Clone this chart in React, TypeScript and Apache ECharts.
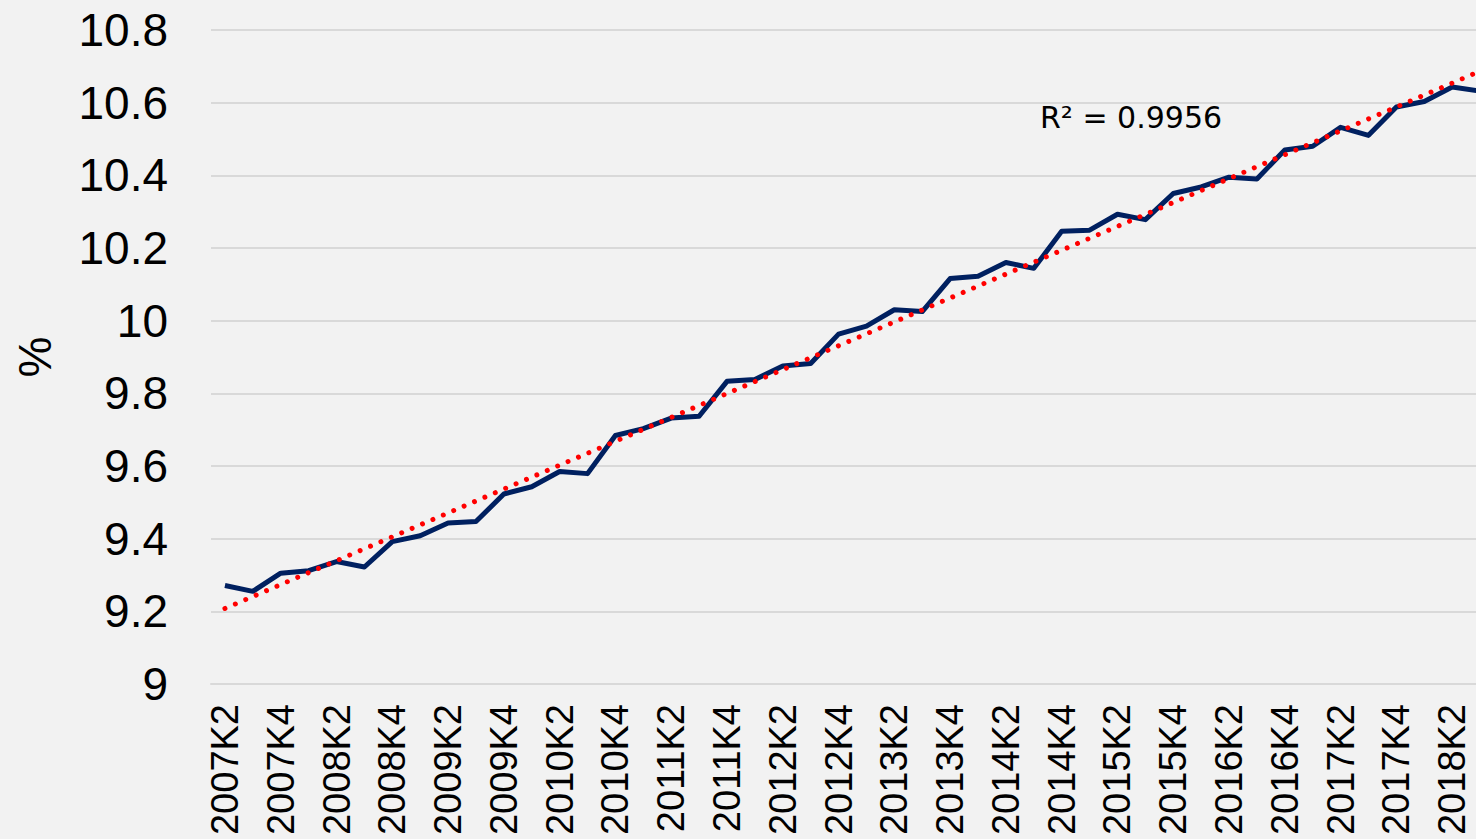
import React, { useEffect, useRef } from "react";
import * as echarts from "echarts";

const categories: string[] = [
  "2007K2", "2007K3", "2007K4", "2008K1", "2008K2", "2008K3", "2008K4",
  "2009K1", "2009K2", "2009K3", "2009K4", "2010K1", "2010K2", "2010K3", "2010K4",
  "2011K1", "2011K2", "2011K3", "2011K4", "2012K1", "2012K2", "2012K3", "2012K4",
  "2013K1", "2013K2", "2013K3", "2013K4", "2014K1", "2014K2", "2014K3", "2014K4",
  "2015K1", "2015K2", "2015K3", "2015K4", "2016K1", "2016K2", "2016K3", "2016K4",
  "2017K1", "2017K2", "2017K3", "2017K4", "2018K1", "2018K2", "2018K3",
];

const shareValues: number[] = [
  9.271, 9.255, 9.305, 9.312, 9.337, 9.322, 9.392, 9.408, 9.443, 9.447,
  9.523, 9.543, 9.585, 9.579, 9.684, 9.703, 9.732, 9.737, 9.833, 9.838,
  9.875, 9.882, 9.963, 9.985, 10.03, 10.025, 10.116, 10.122, 10.16, 10.144,
  10.246, 10.249, 10.293, 10.278, 10.35, 10.368, 10.395, 10.39, 10.47, 10.48,
  10.532, 10.51, 10.588, 10.603, 10.643, 10.632,
];

const yTicks = { min: 9, max: 10.8, step: 0.2 };
const r2Label = "R² = 0.9956";
const yName = "%";

function linearTrend(values: number[]): number[] {
  const n = values.length;
  let sx = 0, sy = 0, sxx = 0, sxy = 0;
  values.forEach((v, i) => {
    sx += i; sy += v; sxx += i * i; sxy += i * v;
  });
  const b = (n * sxy - sx * sy) / (n * sxx - sx * sx);
  const a = (sy - b * sx) / n;
  return values.map((_, i) => +(a + b * i).toFixed(4));
}

export default function App() {
  const ref = useRef<HTMLDivElement>(null);
  useEffect(() => {
    if (!ref.current) return;
    const chart = echarts.init(ref.current, undefined, { renderer: "svg" });
    const trend = linearTrend(shareValues);
    chart.setOption({
      animation: false,
      backgroundColor: "#f2f2f2",
      grid: { left: 211, top: 30, bottom: 155, right: 0, containLabel: false },
      xAxis: {
        type: "category",
        data: categories,
        boundaryGap: true,
        axisLine: { show: true, lineStyle: { color: "#d9d9d9", width: 2 } },
        axisTick: { show: false },
        axisLabel: {
          interval: 1,
          rotate: 90,
          margin: 20,
          color: "#000",
          fontSize: 38,
          fontFamily: "Liberation Sans, Arial, sans-serif",
        },
        splitLine: { show: false },
      },
      yAxis: {
        type: "value",
        min: yTicks.min,
        max: yTicks.max,
        interval: yTicks.step,
        name: yName,
        nameLocation: "middle",
        nameRotate: 90,
        nameGap: 153,
        nameTextStyle: {
          color: "#000",
          fontSize: 46,
          fontFamily: "Liberation Sans, Arial, sans-serif",
        },
        axisLine: { show: false },
        axisTick: { show: false },
        axisLabel: {
          margin: 43,
          color: "#000",
          fontSize: 46,
          fontFamily: "Liberation Sans, Arial, sans-serif",
          formatter: (v: number) => String(+v.toFixed(1)),
        },
        splitLine: { show: true, lineStyle: { color: "#d9d9d9", width: 2 } },
      },
      series: [
        {
          type: "line",
          name: "share",
          data: shareValues,
          symbol: "none",
          lineStyle: { color: "#002060", width: 5, join: "round" },
          z: 2,
        },
        {
          type: "line",
          name: "trend",
          data: trend,
          symbol: "none",
          lineStyle: { color: "#ff0000", width: 5, type: [0.01, 11.3], cap: "round" },
          z: 3,
        },
      ],
      graphic: [
        {
          type: "text",
          left: 1040,
          top: 102,
          style: {
            text: r2Label,
            fontSize: 30,
            fontFamily: "DejaVu Sans, sans-serif",
            fill: "#000",
          },
        },
      ],
    });
    return () => chart.dispose();
  }, []);
  return (
    <div style={{ position: "fixed", left: 0, top: 0, width: 1476, height: 839, overflow: "hidden" }}>
      <div ref={ref} style={{ width: 1494, height: 839 }} />
    </div>
  );
}
